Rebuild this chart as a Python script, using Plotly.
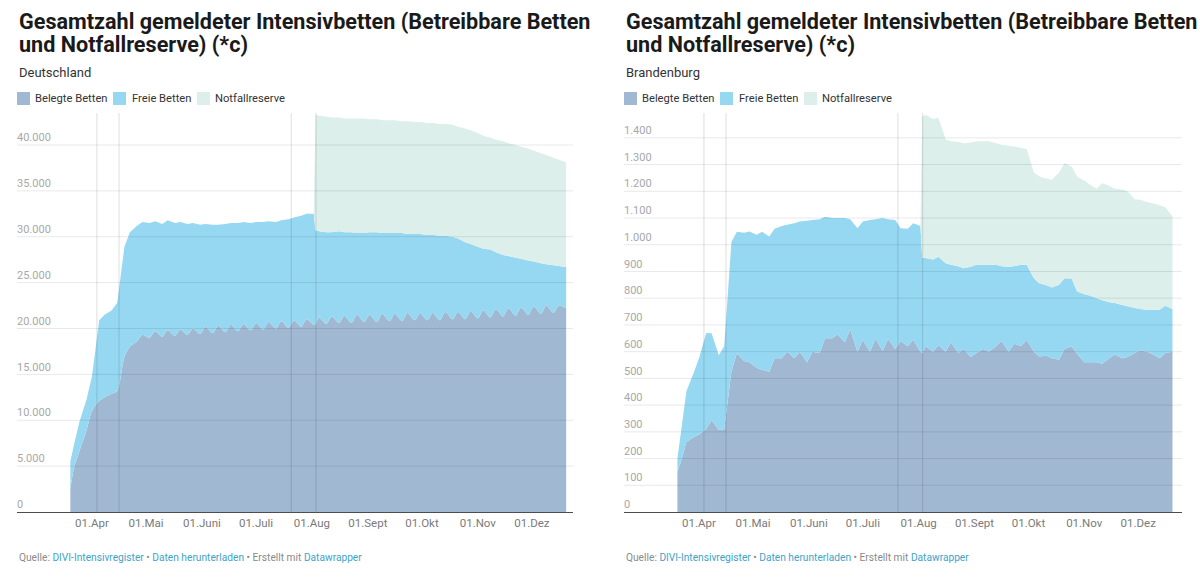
import plotly.graph_objects as go

# ---------------- data ----------------
dates = [
    "2020-03-20", "2020-03-22", "2020-03-25", "2020-03-29", "2020-04-01", "2020-04-05",
    "2020-04-08", "2020-04-12", "2020-04-15", "2020-04-19", "2020-04-22", "2020-04-26",
    "2020-04-29", "2020-05-03", "2020-05-06", "2020-05-10", "2020-05-13", "2020-05-17",
    "2020-05-20", "2020-05-24", "2020-05-27", "2020-05-31", "2020-06-03", "2020-06-07",
    "2020-06-10", "2020-06-14", "2020-06-17", "2020-06-21", "2020-06-24", "2020-06-28",
    "2020-07-01", "2020-07-05", "2020-07-08", "2020-07-12", "2020-07-15", "2020-07-19",
    "2020-07-22", "2020-07-26", "2020-07-29", "2020-08-02", "2020-08-03", "2020-08-05",
    "2020-08-09", "2020-08-12", "2020-08-16", "2020-08-19", "2020-08-23", "2020-08-26",
    "2020-08-30", "2020-09-02", "2020-09-06", "2020-09-09", "2020-09-13", "2020-09-16",
    "2020-09-20", "2020-09-23", "2020-09-27", "2020-09-30", "2020-10-04", "2020-10-07",
    "2020-10-11", "2020-10-14", "2020-10-18", "2020-10-21", "2020-10-25", "2020-10-28",
    "2020-11-01", "2020-11-04", "2020-11-08", "2020-11-11", "2020-11-15", "2020-11-18",
    "2020-11-22", "2020-11-25", "2020-11-29", "2020-12-02", "2020-12-06", "2020-12-09",
    "2020-12-13", "2020-12-16", "2020-12-20",
]

# Deutschland
de_belegt = [
    2500, 4800, 6600, 8900, 11000, 12100, 12500, 12900, 13200, 16900,
    18000, 18600, 19300, 19000, 19700, 19100, 19800, 19200, 19900, 19300,
    20000, 19400, 20200, 19500, 20300, 19600, 20400, 19700, 20500, 19800,
    20600, 19900, 20700, 20000, 20800, 20100, 20900, 20200, 21000, 20400,
    20500, 21200, 20500, 21300, 20600, 21400, 20600, 21500, 20700, 21500,
    20700, 21600, 20800, 21600, 20800, 21700, 20900, 21700, 20900, 21700,
    20900, 21800, 21000, 21800, 21000, 21900, 21100, 22000, 21200, 22100,
    21300, 22200, 21400, 22300, 21500, 22400, 21600, 22500, 21700, 22500,
    22200,
]
de_frei = [
    3000, 2500, 3200, 3400, 3800, 8800, 9000, 9100, 9600, 12000,
    12500, 12600, 12300, 12500, 12000, 12300, 12000, 12300, 11700, 12100,
    11500, 11900, 11200, 11800, 11000, 11800, 11100, 11800, 11100, 11700,
    11000, 11700, 11000, 11600, 11000, 11800, 11200, 12100, 11500, 12100,
    10200, 9400, 10000, 9200, 10000, 9100, 9900, 8900, 9700, 9000,
    9800, 8800, 9600, 8800, 9600, 8600, 9400, 8600, 9300, 8500,
    9200, 8300, 9000, 8000, 8400, 7300, 7800, 6700, 7400, 6200,
    6700, 5700, 6300, 5300, 5900, 4900, 5500, 4500, 5200, 4300,
    4500,
]
de_reserve = [
    0, 0, 0, 0, 0, 0, 0, 0, 0, 0,
    0, 0, 0, 0, 0, 0, 0, 0, 0, 0,
    0, 0, 0, 0, 0, 0, 0, 0, 0, 0,
    0, 0, 0, 0, 0, 0, 0, 0, 0, 0,
    12600, 12600, 12600, 12500, 12400, 12400, 12400, 12500, 12500, 12300,
    12300, 12300, 12300, 12300, 12200, 12300, 12200, 12200, 12200, 12200,
    12200, 12200, 12200, 12200, 12400, 12400, 12400, 12300, 12200, 12300,
    12400, 12300, 12300, 12200, 12200, 12100, 12000, 11900, 11700, 11600,
    11400,
]

# Brandenburg
bb_belegt = [
    150, 190, 262, 280, 290, 310, 344, 307, 310, 525,
    594, 565, 560, 540, 532, 525, 575, 575, 600, 575,
    600, 560, 600, 594, 650, 650, 665, 635, 684, 600,
    645, 600, 648, 602, 648, 610, 640, 620, 645, 600,
    595, 620, 600, 625, 600, 635, 595, 610, 580, 595,
    610, 600, 620, 640, 600, 630, 620, 645, 600, 582,
    585, 575, 570, 610, 620, 592, 560, 560, 560, 555,
    575, 590, 575, 580, 595, 605, 600, 590, 575, 595,
    600,
]
bb_frei = [
    50, 110, 190, 240, 285, 360, 325, 280, 310, 485,
    455, 480, 490, 497, 517, 506, 485, 495, 475, 505,
    487, 530, 493, 501, 455, 450, 435, 465, 411, 462,
    442, 493, 447, 498, 447, 483, 422, 440, 435, 470,
    355, 330, 345, 330, 331, 290, 325, 302, 338, 330,
    315, 325, 305, 280, 318, 290, 305, 280, 275, 274,
    263, 265, 280, 265, 254, 233, 255, 250, 240, 237,
    210, 192, 200, 190, 168, 155, 157, 166, 183, 177,
    160,
]
bb_reserve = [
    0, 0, 0, 0, 0, 0, 0, 0, 0, 0,
    0, 0, 0, 0, 0, 0, 0, 0, 0, 0,
    0, 0, 0, 0, 0, 0, 0, 0, 0, 0,
    0, 0, 0, 0, 0, 0, 0, 0, 0, 0,
    530, 536, 525, 520, 464, 462, 465, 468, 465, 462,
    462, 462, 455, 454, 452, 448, 437, 433, 395, 399,
    400, 403, 420, 430, 419, 430, 425, 415, 410, 438,
    435, 428, 432, 430, 407, 408, 403, 399, 390, 368,
    346,
]

series_names = ["Belegte Betten", "Freie Betten", "Notfallreserve"]
month_ticks = ["2020-04-01", "2020-05-01", "2020-06-01", "2020-07-01", "2020-08-01",
               "2020-09-01", "2020-10-01", "2020-11-01", "2020-12-01"]
month_labels = ["01.Apr", "01.Mai", "01.Juni", "01.Juli", "01.Aug",
                "01.Sept", "01.Okt", "01.Nov", "01.Dez"]
de_yticks = [0, 5000, 10000, 15000, 20000, 25000, 30000, 35000, 40000]
bb_yticks = [0, 100, 200, 300, 400, 500, 600, 700, 800, 900, 1000, 1100, 1200, 1300, 1400]
event_dates = ["2020-04-03 18:00", "2020-04-16 00:00", "2020-07-20 12:00", "2020-08-03 06:00"]

title_l1 = "Gesamtzahl gemeldeter Intensivbetten (Betreibbare Betten"
title_l2 = "und Notfallreserve) (*c)"
regions = ["Deutschland", "Brandenburg"]

# ---------------- style ----------------
W, H = 1200, 587
colors = ["#a1b8d2", "#96d8f2", "#dcefeb"]
FONT = "Roboto"


def px(x):
    return x / W


def py(y):
    return 1 - y / H


fig = go.Figure()

panels = [
    dict(ax="x", ay="y", left=17, right=573, belegt=de_belegt, frei=de_frei, res=de_reserve,
         yticks=de_yticks, yrange=[0, 43490], xrange=["2020-02-19 10:00", "2020-12-23 19:00"],
         region=regions[0], group="de", smooth=True),
    dict(ax="x2", ay="y2", left=624, right=1182, belegt=bb_belegt, frei=bb_frei, res=bb_reserve,
         yticks=bb_yticks, yrange=[0, 1493], xrange=["2020-02-19 08:00", "2020-12-25 07:00"],
         region=regions[1], group="bb", smooth=False),
]

shapes = []
annotations = []
top_px, base_px = 113, 512

for i, p in enumerate(panels):
    for k, (name, vals, col) in enumerate(zip(series_names, [p["belegt"], p["frei"], p["res"]], colors)):
        line = dict(width=0)
        if p["smooth"] and k == 0:
            line.update(shape="spline", smoothing=0.8)
        fig.add_trace(go.Scatter(
            x=dates, y=vals, name=name, mode="none", stackgroup=p["group"],
            fillcolor=col, line=line, xaxis=p["ax"], yaxis=p["ay"], showlegend=False,
            hovertemplate="%{x|%d.%m.%Y}: %{y:,d}<extra>" + name + "</extra>",
        ))
    sfx = "" if i == 0 else "2"
    xa = dict(
        domain=[px(p["left"]), px(p["right"])], range=p["xrange"], type="date",
        tickmode="array", tickvals=month_ticks, ticktext=month_labels,
        showgrid=False, zeroline=False, showline=True, linecolor="#4d4d4d", linewidth=1.3,
        ticks="", tickfont=dict(family=FONT, size=11.5, color="#7a7a7a"),
        anchor="y" + sfx, layer="above traces", fixedrange=True,
    )
    ya = dict(
        domain=[py(base_px), py(top_px)], range=p["yrange"], tickmode="array",
        tickvals=p["yticks"], tickformat=",d", showgrid=False, zeroline=False,
        ticklabelposition="inside top", ticklabelstandoff=-3, ticks="", showline=False,
        tickfont=dict(family=FONT, size=11, color="#a8a8a8"),
        anchor="x" + sfx, layer="above traces", fixedrange=True,
    )
    fig.update_layout(**{"xaxis" + sfx: xa, "yaxis" + sfx: ya})

    # gridlines drawn over the areas
    for t in p["yticks"][1:]:
        shapes.append(dict(type="line", xref=p["ax"] + " domain", yref=p["ay"],
                           x0=0, x1=1, y0=t, y1=t, layer="above",
                           line=dict(color="rgba(0,0,0,0.09)", width=1)))
    # vertical marker lines
    for d in event_dates:
        shapes.append(dict(type="line", xref=p["ax"], yref=p["ay"] + " domain",
                           x0=d, x1=d, y0=0, y1=1, layer="above",
                           line=dict(color="rgba(0,0,0,0.13)", width=1)))

    L = p["left"]
    annotations += [
        dict(text="<b>" + title_l1 + "</b>", x=px(L), y=py(21.5), xanchor="left", yanchor="middle",
             font=dict(family=FONT, size=21.6, color="#1a1a1a")),
        dict(text="<b>" + title_l2 + "</b>", x=px(L), y=py(45), xanchor="left", yanchor="middle",
             font=dict(family=FONT, size=21.6, color="#1a1a1a")),
        dict(text=p["region"], x=px(L), y=py(73), xanchor="left", yanchor="middle",
             font=dict(family=FONT, size=13, color="#333333")),
    ]
    # legend
    leg_sq = [0, 96, 180]
    leg_tx = [16, 113, 196]
    for name, col, sq, tx in zip(series_names, colors, leg_sq, leg_tx):
        shapes.append(dict(type="rect", xref="paper", yref="paper",
                           x0=px(L + sq), x1=px(L + sq + 13), y0=py(105), y1=py(92),
                           fillcolor=col, line=dict(width=0), layer="above"))
        annotations.append(dict(text=name, x=px(L + tx), y=py(98.5), xanchor="left",
                                yanchor="middle",
                                font=dict(family=FONT, size=11.2, color="#333333")))
    link = "#3ea3c9"
    grey = "#8a8a8a"
    footer = ("<span style='color:%s'>Quelle: </span><span style='color:%s'>DIVI-Intensivregister</span>"
              "<span style='color:%s'> • </span><span style='color:%s'>Daten herunterladen</span>"
              "<span style='color:%s'> • Erstellt mit </span><span style='color:%s'>Datawrapper</span>"
              % (grey, link, grey, link, grey, link))
    annotations.append(dict(text=footer, x=px(L), y=py(557.5), xanchor="left", yanchor="middle",
                            font=dict(family=FONT, size=10.2, color=grey)))

for a in annotations:
    a.update(xref="paper", yref="paper", showarrow=False, align="left")

fig.update_layout(
    width=W, height=H, autosize=False,
    margin=dict(l=0, r=0, t=0, b=0),
    paper_bgcolor="white", plot_bgcolor="white",
    separators=",.",
    shapes=shapes, annotations=annotations,
    font=dict(family=FONT),
    hovermode="closest",
)

fig.write_html("out.html", config={"displayModeBar": False},
               post_script="document.body.style.margin='0';document.body.style.overflow='hidden';")
